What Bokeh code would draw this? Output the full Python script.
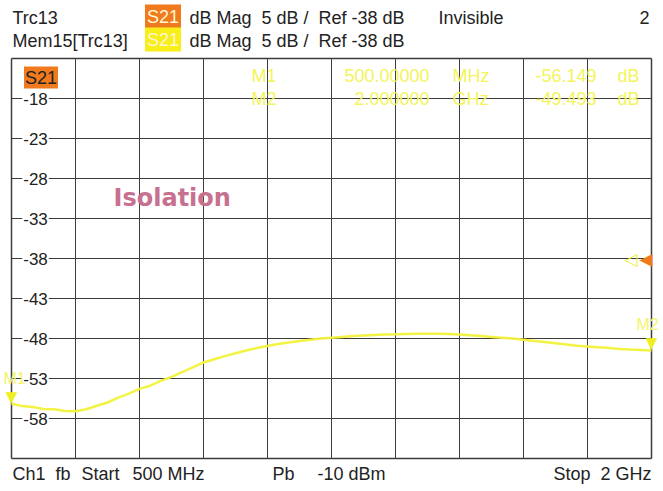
from bokeh.plotting import figure
from bokeh.models import Label, FixedTicker, Grid, Range1d
from bokeh.embed import file_html
from bokeh.resources import INLINE

# ---- data ----
freq_mhz = [500, 525, 550, 575, 600, 625, 650, 675, 700, 725, 750, 775, 800, 825, 850,
            875, 900, 925, 950, 975, 1000, 1025, 1050, 1075, 1100, 1125, 1150, 1175, 1200,
            1225, 1250, 1275, 1300, 1325, 1350, 1375, 1400, 1425, 1450, 1475, 1500, 1525,
            1550, 1575, 1600, 1625, 1650, 1675, 1700, 1725, 1750, 1775, 1800, 1825, 1850,
            1875, 1900, 1925, 1950, 1975, 2000]
s21_db = [-56.15, -56.45, -56.55, -56.8, -56.85, -57.05, -57.1, -56.85, -56.4, -56.0, -55.4,
          -54.9, -54.3, -53.9, -53.3, -52.8, -52.2, -51.6, -51.0, -50.6, -50.2, -49.85, -49.5,
          -49.2, -48.95, -48.7, -48.5, -48.3, -48.15, -48.0, -47.9, -47.8, -47.7, -47.62,
          -47.55, -47.5, -47.47, -47.43, -47.4, -47.4, -47.4, -47.45, -47.5, -47.6, -47.7,
          -47.8, -47.9, -48.0, -48.15, -48.3, -48.45, -48.6, -48.75, -48.9, -49.0, -49.1,
          -49.2, -49.3, -49.37, -49.43, -49.49]

y_tick_values = [-58, -53, -48, -43, -38, -33, -28, -23, -18]
y_grid_values = [-58, -53, -48, -43, -38, -33, -28, -23, -18]
x_grid_values = [650, 800, 950, 1100, 1250, 1400, 1550, 1700, 1850]
marker_names = ["M1", "M2"]
marker_freq_mhz = [500.0, 2000.0]
marker_db = [-56.149, -49.493]
ref_level_db = -38
db_per_div = 5
start_mhz, stop_mhz = 500, 2000

FONT = "Liberation Sans"
TRACE = "#f2f23a"
MARK_TXT = "#f4f45a"
ORANGE = "#f07a1e"
GRIDC = "#3c3c3c"
SP2 = "\u00a0 "  # visible double space

W, H = 663, 491
# diagram box in canvas pixels
BX0, BX1, BY0, BY1 = 11, 651, 58, 458
y_top = ref_level_db + 5 * db_per_div
y_bot = ref_level_db - 5 * db_per_div
mhz_px = (stop_mhz - start_mhz) / (BX1 - BX0)
db_px = (y_top - y_bot) / (BY1 - BY0)

p = figure(width=W, height=H,
           x_range=Range1d(start_mhz - BX0 * mhz_px, stop_mhz + (W - BX1) * mhz_px),
           y_range=Range1d(y_bot - (H - BY1) * db_px, y_top + BY0 * db_px),
           x_axis_type=None, y_axis_type=None,
           output_backend="svg", toolbar_location=None, min_border=0)
p.outline_line_color = None
p.background_fill_color = "white"
p.border_fill_color = "white"

has_cross = "cross_bounds" in Grid.properties()


def add_grid(dim, ticks, lw):
    if has_cross:
        cb = (y_bot, y_top) if dim == 0 else (start_mhz, stop_mhz)
        p.add_layout(Grid(dimension=dim, ticker=FixedTicker(ticks=ticks), cross_bounds=cb,
                          grid_line_color=GRIDC, grid_line_width=lw))
    else:
        if dim == 0:
            p.segment(x0=ticks, x1=ticks, y0=[y_bot] * len(ticks), y1=[y_top] * len(ticks),
                      line_color=GRIDC, line_width=lw, level="underlay")
        else:
            p.segment(x0=[start_mhz] * len(ticks), x1=[stop_mhz] * len(ticks), y0=ticks,
                      y1=ticks, line_color=GRIDC, line_width=lw, level="underlay")


def lab(wx, wy, text, size=18, color="#222222", align="left", baseline="middle",
        font=FONT, style="normal", **kw):
    lb = Label(x=wx, y=H - wy, x_units="screen", y_units="screen", text=text,
               text_font=font, text_font_size=f"{size}px", text_color=color,
               text_align=align, text_baseline=baseline, text_font_style=style, **kw)
    p.add_layout(lb)
    return lb


# marker readout (pale yellow, behind the grid)
rows_y = [75, 98]
for name, f, d, wy in zip(marker_names, marker_freq_mhz, marker_db, rows_y):
    if f < 1000:
        ftxt, unit = f"{f:.5f}", "MHz"
    else:
        ftxt, unit = f"{f / 1000:.6f}", "GHz"
    lab(251, wy, name, color=MARK_TXT)
    lab(429, wy, ftxt, color=MARK_TXT, align="right")
    lab(452, wy, unit, color=MARK_TXT)
    lab(596, wy, f"{d:.3f}", color=MARK_TXT, align="right")
    lab(617, wy, "dB", color=MARK_TXT)

add_grid(0, x_grid_values, 1)
add_grid(1, y_grid_values, 1)
add_grid(0, [start_mhz, stop_mhz], 1.5)
add_grid(1, [y_bot, y_top], 1.5)

# trace
p.line(freq_mhz, s21_db, line_color=TRACE, line_width=2.5, line_alpha=0.95)

# y tick labels inside the diagram
for t in y_tick_values:
    p.add_layout(Label(x=35, y=t, x_units="screen", y_units="data", text=f"{t}",
                       text_font=FONT, text_font_size="17px", text_color="#222222",
                       text_align="center", text_baseline="middle",
                       background_fill_color="white", padding=1))

# S21 tag inside diagram
lab(40.5, 77, "S21", size=18, color="#222222", align="center",
    background_fill_color=ORANGE, padding=1)

# Isolation
lab(113, 197, "Isolation", size=24, color="#c8708f", font="DejaVu Sans", style="bold")

# header
hdr = f"dB Mag{SP2}{db_per_div} dB /{SP2}Ref {ref_level_db} dB"
for wy, name, boxc in [(17, "Trc13", ORANGE), (40, "Mem15[Trc13]", "#f7ee1a")]:
    lab(12, wy, name)
    lab(162.5, wy - 1, "S21", align="center", color="#fff6d0",
        background_fill_color=boxc, padding=2)
    lab(189, wy, hdr)
lab(438, 17, "Invisible")
lab(649, 17, "2", align="right")

# footer
FY = 473
lab(12, FY, "Ch1")
lab(55, FY, "fb")
lab(81, FY, "Start")
lab(132, FY, f"{start_mhz} MHz")
lab(272, FY, "Pb")
lab(317, FY, "-10 dBm")
lab(651, FY, f"Stop{SP2}{stop_mhz // 1000} GHz", align="right")

# markers on the trace
for name, f, d in zip(marker_names, marker_freq_mhz, marker_db):
    p.add_layout(Label(x=f, y=d, text="\u25BC", text_font="DejaVu Sans",
                       text_font_size="15px", text_color="#f0f020", text_align="center",
                       text_baseline="bottom", y_offset=-2))
    p.add_layout(Label(x=f, y=d, text=name, text_font=FONT, text_font_size="16px",
                       text_color="#f4f46a", text_align="center", text_baseline="bottom",
                       x_offset=(3 if f < 1000 else -4), y_offset=17))

# reference level markers at the right edge
p.add_layout(Label(x=stop_mhz, y=ref_level_db, text="\u25C0", text_font="DejaVu Sans",
                   text_font_size="17px", text_color=ORANGE, text_align="right",
                   text_baseline="middle", x_offset=1))
p.add_layout(Label(x=stop_mhz, y=ref_level_db, text="\u25C1", text_font="DejaVu Sans",
                   text_font_size="17px", text_color="#eeee30", text_align="right",
                   text_baseline="middle", x_offset=-14))

open("out.html", "w").write(file_html(p, INLINE))
